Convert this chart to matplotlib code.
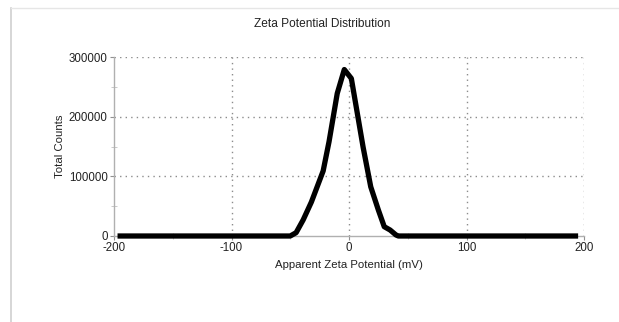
import numpy as np
import matplotlib.pyplot as plt
from matplotlib.lines import Line2D
from matplotlib.ticker import MultipleLocator

plt.rcParams['font.family'] = ['Liberation Sans', 'DejaVu Sans']

# readings of the curve (mV, counts)
zeta_mv = [-197, -150, -100, -50, -45, -39, -32, -22, -17, -10, -4, 2,
           12, 18.5, 25, 30, 35, 40, 42, 100, 150, 195]
counts = [0, 0, 0, 0, 5600, 27000, 57000, 109000, 158000, 239000, 279000, 264000,
          149000, 82500, 43500, 15600, 10000, 1700, 0, 0, 0, 0]

x_ticks = [-200, -100, 0, 100, 200]
y_ticks = [0, 100000, 200000, 300000]

fig = plt.figure(figsize=(6.19, 3.22), dpi=100)
ax = fig.add_axes([114 / 619, 1 - 236 / 322, 470 / 619, 179 / 322])

grid_col = '#8c8c8c'
for gx in x_ticks[1:]:
    ax.axvline(gx, color=grid_col, lw=1.0, ls=(0, (1, 3)), zorder=1)
for gy in y_ticks[1:]:
    ax.axhline(gy, color=grid_col, lw=1.0, ls=(0, (1, 3)), zorder=1)

ax.plot(zeta_mv, counts, color='black', lw=3.8, solid_joinstyle='round',
        solid_capstyle='butt', clip_on=False, zorder=3)

ax.set_xlim(-200, 200)
ax.set_ylim(0, 300000)
ax.set_xticks(x_ticks)
ax.set_yticks(y_ticks)
ax.set_xticklabels([str(v) for v in x_ticks])
ax.set_yticklabels([str(v) for v in y_ticks])
ax.xaxis.set_minor_locator(MultipleLocator(50))
ax.yaxis.set_minor_locator(MultipleLocator(50000))

for s in ['top', 'right']:
    ax.spines[s].set_visible(False)
for s in ['left', 'bottom']:
    ax.spines[s].set_color('#b0b0b0')
    ax.spines[s].set_linewidth(1.0)

ax.tick_params(axis='both', which='major', direction='out', length=3,
               color='#909090', labelsize=8.3, labelcolor='#222222', pad=1.5)
ax.tick_params(axis='both', which='minor', direction='inout', length=4,
               color='#c0c0c0')

ax.set_xlabel('Apparent Zeta Potential (mV)', fontsize=8.2, color='#222222', labelpad=4)
ax.set_ylabel('Total Counts', fontsize=8.2, color='#222222', labelpad=3)
fig.text(322 / 619, 1 - 24 / 322, 'Zeta Potential Distribution', ha='center',
         va='center', fontsize=8.6, color='#222222')

# light frame round the plot area
fig.add_artist(Line2D([10.5 / 619, 10.5 / 619], [0, 1 - 7.5 / 322],
                      transform=fig.transFigure, color='#d0d0d0', lw=1.2))
fig.add_artist(Line2D([10.5 / 619, 1], [1 - 7.5 / 322, 1 - 7.5 / 322],
                      transform=fig.transFigure, color='#e6e6e6', lw=1.0))

fig.savefig('out.png', dpi=100)
